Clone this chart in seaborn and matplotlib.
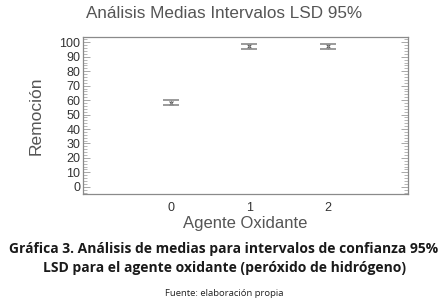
import matplotlib
matplotlib.use("Agg")
import matplotlib.pyplot as plt
import seaborn as sns
import pandas as pd
from matplotlib.ticker import MultipleLocator

agentes = [0, 1, 2]
medias = [58.2, 97.3, 97.3]
inferior = [56.5, 95.7, 95.7]
superior = [59.8, 98.9, 98.9]

df = pd.DataFrame({"Agente": agentes, "Remocion": medias})

sns.set_style("white")
plt.rcParams["font.family"] = ["Liberation Sans", "DejaVu Sans"]

fig = plt.figure(figsize=(4.48, 3.05), dpi=100)
ax = fig.add_axes([83 / 448, 1 - 194 / 305, 325 / 448, 157 / 305])

err_lo = [m - lo for m, lo in zip(medias, inferior)]
err_hi = [hi - m for m, hi in zip(medias, superior)]
ax.errorbar(agentes, medias, yerr=[err_lo, err_hi], fmt="none", ecolor="#8a8a8a",
            elinewidth=0.8, capsize=6, capthick=1.2)
sns.scatterplot(data=df, x="Agente", y="Remocion", ax=ax, marker="x", s=8,
                color="#555555", linewidth=0.8, legend=False)

ax.set_xlim(-1.12, 3.02)
ax.set_ylim(-5, 103.7)
ax.set_xticks(agentes)
ax.yaxis.set_major_locator(MultipleLocator(10))
ax.yaxis.set_minor_locator(MultipleLocator(2))
ax.tick_params(axis="y", which="both", direction="in", right=True, left=True,
               colors="#9a9a9a", labelcolor="#333333", labelsize=9, pad=2)
ax.tick_params(axis="y", which="major", length=5, width=0.6)
ax.tick_params(axis="y", which="minor", length=3, width=0.5)
ax.tick_params(axis="x", length=0, labelcolor="#333333", labelsize=9, pad=6)
for s in ax.spines.values():
    s.set_color("#8a8a8a")
    s.set_linewidth(0.9)

ax.set_xlabel("Agente Oxidante", fontsize=12, color="#555555", labelpad=1)
ax.set_ylabel("Remoción", fontsize=12.5, color="#555555", labelpad=11)

fig.text(0.5, 1 - 13 / 305, "Análisis Medias Intervalos LSD 95%", ha="center",
         va="center", fontsize=12.3, color="#555555")
fig.text(0.5, 1 - 249 / 305, "Gráfica 3. Análisis de medias para intervalos de confianza 95%",
         ha="center", va="center", fontsize=10, fontweight="bold", color="#1a1a1a",
         family="Open Sans")
fig.text(0.5, 1 - 268 / 305, "LSD para el agente oxidante (peróxido de hidrógeno)",
         ha="center", va="center", fontsize=10, fontweight="bold", color="#1a1a1a",
         family="Open Sans")
fig.text(0.5, 1 - 293 / 305, "Fuente: elaboración propia", ha="center", va="center",
         fontsize=6.8, color="#222222", family="Open Sans")

fig.savefig("out.png", dpi=100)
